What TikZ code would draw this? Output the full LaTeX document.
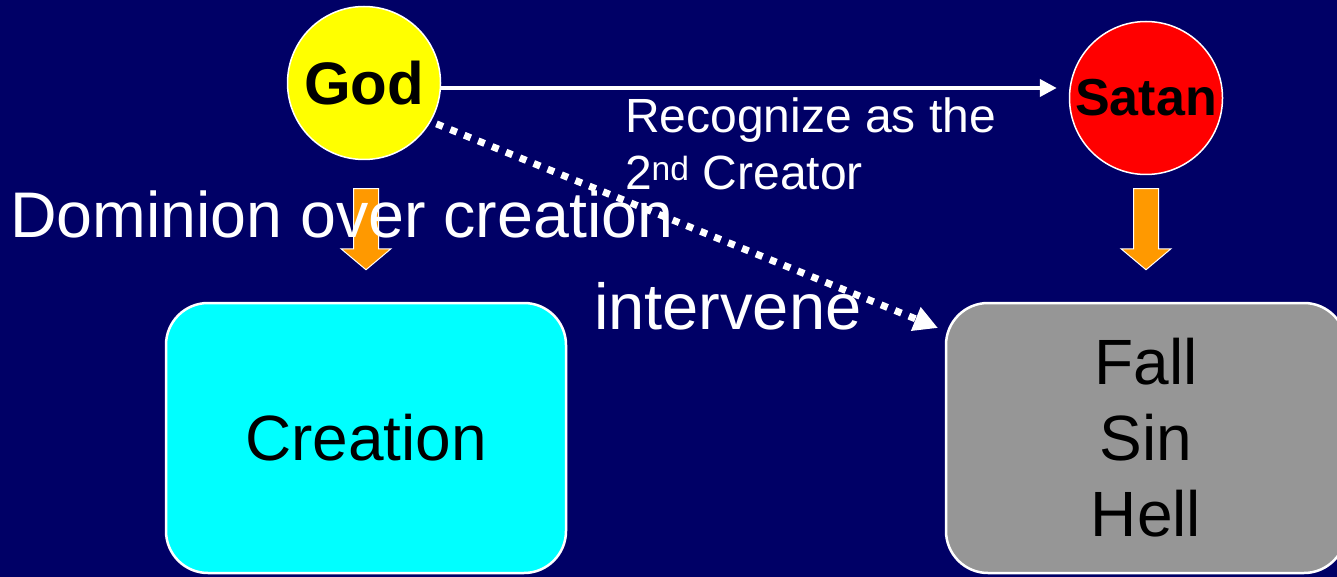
\documentclass[tikz,border=0pt]{standalone}
\usepackage{fontspec}
\setmainfont{Liberation Sans}
\usetikzlibrary{positioning, arrows.meta}
\definecolor{slidenavy}{HTML}{000066}
\definecolor{godyellow}{HTML}{FFFF00}
\definecolor{satanred}{HTML}{FF0000}
\definecolor{creationcyan}{HTML}{00FFFF}
\definecolor{fallgray}{HTML}{969696}
\definecolor{downorange}{HTML}{FF9900}

\begin{document}
\begin{tikzpicture}[x=1pt, y=-1pt, line width=2pt,
    person/.style={circle, draw=white, line width=1.5pt, minimum size=153pt, inner sep=0pt},
    realm/.style={rounded corners=42pt, draw=white, line width=2.5pt, minimum width=400pt, minimum height=270pt, inner sep=0pt, align=center, font=\fontsize{64}{76}\selectfont},
    words/.style={text=white, inner sep=0pt, anchor=base west}]
    \fill[slidenavy] (0,0) rectangle (1337,577);
    \useasboundingbox (0,0) rectangle (1337,577);
    \clip (0,0) rectangle (1337,577);
    \node[realm, fill=creationcyan] (creation) at (366,438) {Creation};
    \node[realm, fill=fallgray] (fall) at (1146,438) {Fall\\Sin\\Hell};
    \node[person, fill=godyellow, font=\fontsize{60}{60}\selectfont\bfseries] (god) at (364,83) {God};
    \node[person, fill=satanred, font=\fontsize{52}{52}\selectfont\bfseries] (satan) at (1146,98) {Satan};
    \foreach \top in {creation, fall}{
      \begin{scope}[shift={(\top.north)}]
        \filldraw[draw=white, fill=downorange, line width=1pt] (-12.5,-113) -- (12.5,-113) -- (12.5,-53) -- (25,-53) -- (0,-32) -- (-25,-53) -- (-12.5,-53) -- cycle;
      \end{scope}}
    \node[words, font=\fontsize{64.5}{64.5}\selectfont] (dominion) at (9,237) {Dominion over creation};
    \node[words, font=\fontsize{65}{65}\selectfont] (intervene) at (593,329) {intervene};
    \node[words, align=left, font=\fontsize{48}{57}\selectfont] (recognize) at (624,190) {Recognize as the\\2\textsuperscript{nd} Creator};
    \draw[white, line width=4pt, -{Triangle[length=17pt, width=17pt]}] ([yshift=-5pt]god.east) -- ([xshift=-12pt, yshift=10pt]satan.west);
    \coordinate (fallin) at (938,328);
    \draw[white, line width=7pt, dash pattern=on 7pt off 8pt, -{Triangle[length=24pt, width=24pt]}, shorten <=6pt] (god.-30) -- (fallin);
  \end{tikzpicture}
\end{document}
